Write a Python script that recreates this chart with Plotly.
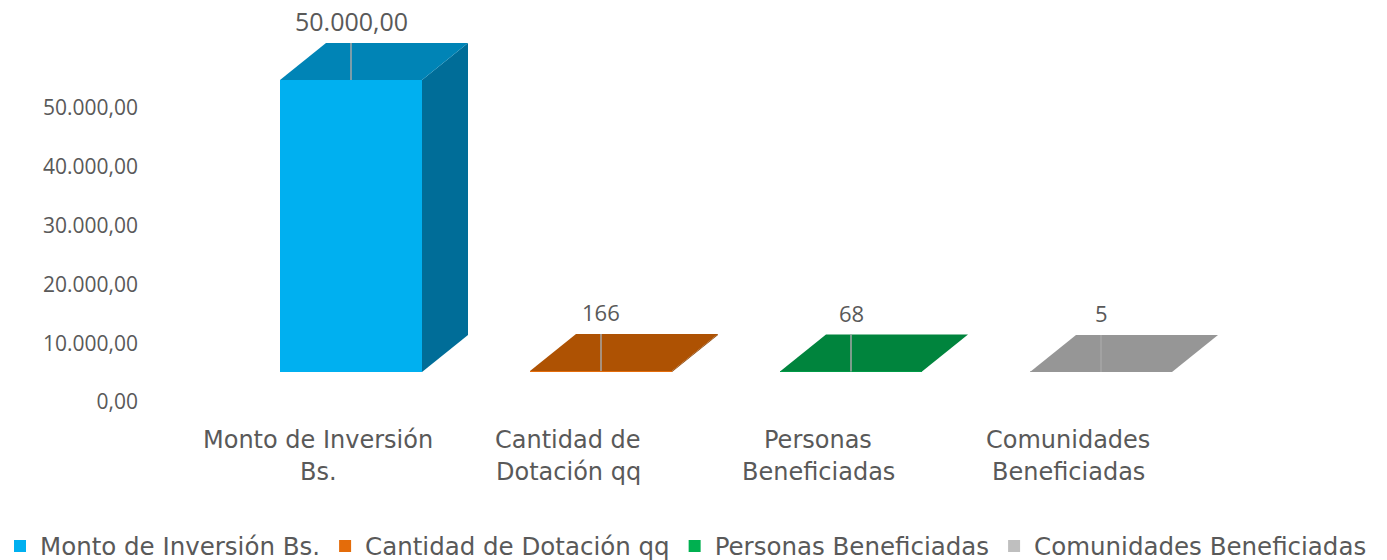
import plotly.graph_objects as go

# ---- data ----
categories = ["Monto de Inversión Bs.", "Cantidad de Dotación qq",
              "Personas Beneficiadas", "Comunidades Beneficiadas"]
category_lines = [("Monto de Inversión", "Bs."), ("Cantidad de", "Dotación qq"),
                  ("Personas", "Beneficiadas"), ("Comunidades", "Beneficiadas")]
values = [50000, 166, 68, 5]
decimals = [2, 0, 0, 0]
tick_values = [0, 10000, 20000, 30000, 40000, 50000]
tick_labels = ["0,00", "10.000,00", "20.000,00", "30.000,00", "40.000,00", "50.000,00"]

# ---- style ----
front_colors = ["#00B0F0", "#E46C0A", "#00B050", "#BFBFBF"]
top_colors = ["#0084B6", "#AE5203", "#00843D", "#969696"]
side_colors = ["#006D98", "#8A4102", "#006A31", "#7A7A7A"]
TEXT = "#595959"
NUM_FONT = "Open Sans"
TXT_FONT = "DejaVu Sans"

W, H = 1387, 560
ML, MR, MT, MB = 0, 0, 0, 150
PW, PH = W - ML - MR, H - MT - MB
AXIS_PX = 150  # horizontal position of the value axis

# horizontal scale: category centre pitch and first centre (pixels)
PITCH = 250.0
FIRST_PX = 351.0
BAR_W = 0.568
x0 = -(FIRST_PX - ML) / PITCH
x_range = [x0, x0 + PW / PITCH]

# axis on which the boxes are drawn (front plane)
k1 = (372 - 80) / 50000.0
y1_0 = -((MT + PH) - 372) / k1
y_range = [y1_0, y1_0 + PH / k1]

# axis carrying the value tick labels (back wall)
k2 = (402 - 108) / 50000.0
y2_0 = -((MT + PH) - 402) / k2
y2_range = [y2_0, y2_0 + PH / k2]

# depth of the 3-D boxes in pixels, converted to data units
DEPTH_DX = 46 / PITCH
DEPTH_DY = 37 / k1


def fmt(v, d):
    s = f"{v:,.{d}f}"
    return s.replace(",", "X").replace(".", ",").replace("X", ".")


fig = go.Figure()

for i, (name, v) in enumerate(zip(categories, values)):
    xl, xr = i - BAR_W / 2, i + BAR_W / 2
    # front face (also the legend entry)
    fig.add_trace(go.Bar(
        x=[i], y=[v], width=BAR_W, name=name,
        marker=dict(color=front_colors[i], line=dict(width=0)),
        hoverinfo="skip", showlegend=True))
    # right side face
    fig.add_trace(go.Scatter(
        x=[xr, xr + DEPTH_DX, xr + DEPTH_DX, xr, xr],
        y=[0, DEPTH_DY, v + DEPTH_DY, v, 0],
        mode="lines", fill="toself", fillcolor=side_colors[i],
        line=dict(width=0, color=side_colors[i]), hoverinfo="skip", showlegend=False))
    # top face
    fig.add_trace(go.Scatter(
        x=[xl, xr, xr + DEPTH_DX, xl + DEPTH_DX, xl],
        y=[v, v, v + DEPTH_DY, v + DEPTH_DY, v],
        mode="lines", fill="toself", fillcolor=top_colors[i],
        line=dict(width=0, color=top_colors[i]), hoverinfo="skip", showlegend=False))
    # leader line across the top face
    fig.add_trace(go.Scatter(
        x=[i, i], y=[v, v + DEPTH_DY], mode="lines",
        line=dict(width=1.5, color="#A6A6A6"), hoverinfo="skip", showlegend=False))
    # value label
    fig.add_annotation(
        x=i, y=v + DEPTH_DY, xref="x", yref="y", text=fmt(v, decimals[i]),
        showarrow=False, yanchor="middle", yshift=22,
        font=dict(family=NUM_FONT, size=25 if i == 0 else 22, color=TEXT))
    # category label, one annotation per line
    for j, line in enumerate(category_lines[i]):
        fig.add_annotation(
            x=i, y=0, xref="x", yref="paper", text=line, showarrow=False,
            yanchor="middle", yshift=-(440 - (MT + PH)) - 32 * j, xshift=-33,
            font=dict(family=TXT_FONT, size=24, color=TEXT))

# invisible points that anchor the back-wall value axis
fig.add_trace(go.Scatter(
    x=[x_range[0]] * len(tick_values), y=tick_values, yaxis="y2", mode="markers",
    marker=dict(opacity=0), hoverinfo="skip", showlegend=False))

fig.update_layout(
    width=W, height=H,
    margin=dict(l=ML, r=MR, t=MT, b=MB),
    paper_bgcolor="white", plot_bgcolor="white",
    barmode="overlay",
    xaxis=dict(range=x_range, showgrid=False, zeroline=False, showline=False,
               showticklabels=False, ticks="", fixedrange=True),
    yaxis=dict(range=y_range, visible=False),
    yaxis2=dict(range=y2_range, overlaying="y", side="left",
                anchor="free", position=(AXIS_PX - ML) / PW, automargin=False,
                tickvals=tick_values, ticktext=tick_labels,
                showgrid=False, zeroline=False, showline=False, ticks="",
                ticklabelstandoff=12,
                tickfont=dict(family=NUM_FONT, size=21, color=TEXT)),
    legend=dict(orientation="h", xref="container", yref="container",
                x=0, xanchor="left",
                y=1 - 546 / H, yanchor="middle",
                font=dict(family=TXT_FONT, size=24.5, color=TEXT),
                bgcolor="rgba(0,0,0,0)"),
    showlegend=True,
)

fig.write_html("out.html")
